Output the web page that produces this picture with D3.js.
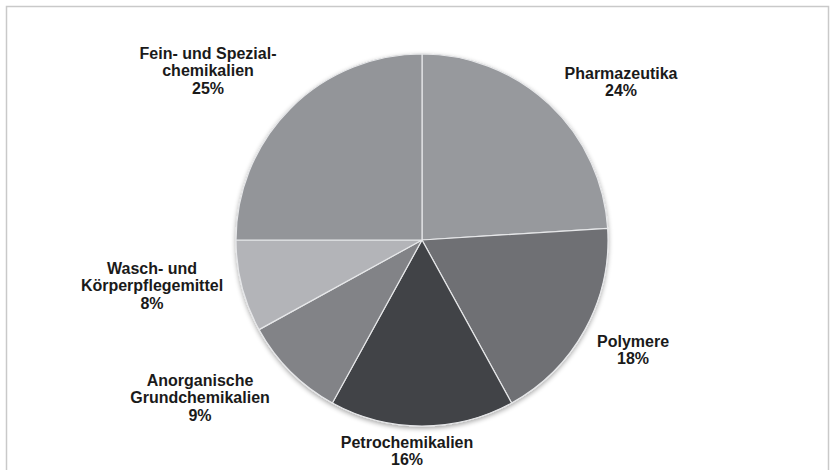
<!DOCTYPE html>
<html>
<head>
<meta charset="utf-8">
<script src="https://cdn.jsdelivr.net/npm/d3@7"></script>
<style>
  html, body { margin: 0; padding: 0; background: #ffffff; }
  svg { display: block; }
  .lbl { font-family: "Liberation Sans", Arial, sans-serif; font-weight: bold; font-size: 16px; fill: #1a1a1a; }
</style>
</head>
<body>
<svg id="chart" width="836" height="470"></svg>
<script>
// Branchenanteile der Chemieproduktion (Prozent)
const categories = [
  "Pharmazeutika",
  "Polymere",
  "Petrochemikalien",
  "Anorganische Grundchemikalien",
  "Wasch- und Körperpflegemittel",
  "Fein- und Spezialchemikalien"
];
const values = [24, 18, 16, 9, 8, 25];
const labelLines = [
  ["Pharmazeutika"],
  ["Polymere"],
  ["Petrochemikalien"],
  ["Anorganische", "Grundchemikalien"],
  ["Wasch- und", "Körperpflegemittel"],
  ["Fein- und Spezial-", "chemikalien"]
];
const colors = ["#97999d", "#6f7074", "#414347", "#828387", "#b3b4b8", "#939599"];

// label anchor (centre of first line) relative to pie centre
const labelOffset = [
  [199, -167],
  [211, 101],
  [-15, 202],
  [-222, 140],
  [-270, 28],
  [-214, -187]
];

const width = 836, height = 470;
const cx = 422, cy = 240, radius = 186;
const lineH = 17.8;

const svg = d3.select("#chart");

// outer frame
svg.append("rect")
  .attr("x", 6.5).attr("y", 6.5)
  .attr("width", 822).attr("height", 470)
  .attr("fill", "#ffffff")
  .attr("stroke", "#c9c9c9")
  .attr("stroke-width", 1.5);

const defs = svg.append("defs");
const shadow = defs.append("filter").attr("id", "shade")
  .attr("x", "-10%").attr("y", "-10%").attr("width", "120%").attr("height", "125%");
shadow.append("feGaussianBlur").attr("in", "SourceAlpha").attr("stdDeviation", 2.5);
shadow.append("feOffset").attr("dy", 2).attr("result", "blur");
shadow.append("feComponentTransfer").append("feFuncA").attr("type", "linear").attr("slope", 0.35);
const merge = shadow.append("feMerge");
merge.append("feMergeNode");
merge.append("feMergeNode").attr("in", "SourceGraphic");

const pie = d3.pie().sort(null).value(d => d)(values);
const arc = d3.arc().innerRadius(0).outerRadius(radius);

const g = svg.append("g").attr("transform", `translate(${cx},${cy})`);

// soft rim and shadow underneath the pie
g.append("circle")
  .attr("r", radius + 0.5)
  .attr("fill", "#d8d8da")
  .attr("filter", "url(#shade)");

g.selectAll("path.slice")
  .data(pie)
  .join("path")
  .attr("class", "slice")
  .attr("d", arc)
  .attr("fill", (d, i) => colors[i])
  .attr("stroke", "#e6e7e9")
  .attr("stroke-width", 1.2)
  .attr("stroke-linejoin", "round");

// labels: category name lines followed by the percentage
const labels = g.selectAll("text.lbl")
  .data(pie)
  .join("text")
  .attr("class", "lbl")
  .attr("text-anchor", "middle")
  .attr("transform", (d, i) => `translate(${labelOffset[i][0]},${labelOffset[i][1]})`);

labels.each(function(d, i) {
  const t = d3.select(this);
  const lines = labelLines[i].concat([values[i] + "%"]);
  lines.forEach((s, k) => {
    t.append("tspan")
      .attr("x", 0)
      .attr("y", k * lineH)
      .attr("dy", "0.35em")
      .text(s);
  });
});
</script>
</body>
</html>
